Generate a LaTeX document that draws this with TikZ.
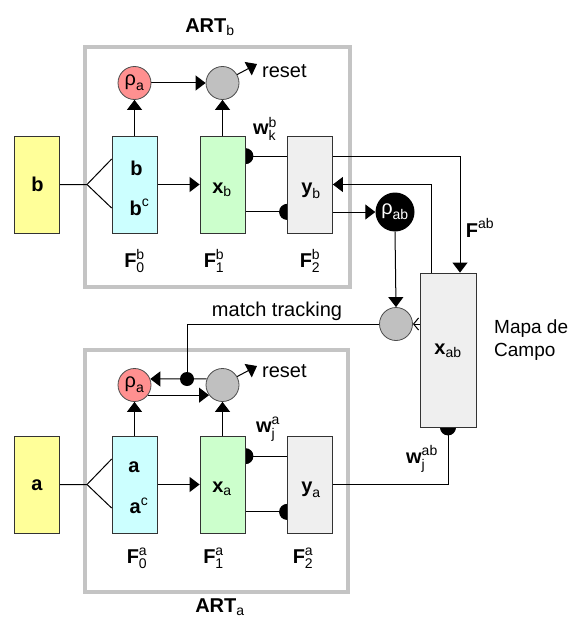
\documentclass[tikz,border=0pt]{standalone}
\usepackage{fontspec}
\setmainfont{Liberation Sans}
\usepackage{amsmath}
\usetikzlibrary{arrows.meta,calc,backgrounds}
\definecolor{InClr}{HTML}{FFFF99}
\definecolor{FzeroClr}{HTML}{CCFFFF}
\definecolor{FoneClr}{HTML}{CCFFCC}
\definecolor{FtwoClr}{HTML}{EFEFEF}
\definecolor{RhoClr}{HTML}{FF9090}
\definecolor{GateClr}{HTML}{C0C0C0}
\definecolor{FrameClr}{HTML}{C4C4C4}

\tikzset{
  layer/.style={draw=black!80,line width=0.8pt,minimum width=45pt,minimum height=97pt,inner sep=0pt},
  gate/.style={circle,draw=black!70,line width=0.8pt,fill=GateClr,minimum size=33pt,inner sep=0pt},
  vig/.style={circle,draw=black!70,line width=0.8pt,fill=RhoClr,minimum size=33pt,inner sep=0pt},
  lbl/.style={inner sep=0pt},
  jdot/.style={circle,fill=black,minimum size=14pt,inner sep=0pt},
  link/.style={line width=1pt},
  tri/.style={-{Triangle[width=15pt,length=10pt]}},
  wt/.style={-{Circle[length=16pt]},shorten >=-8pt},
  frame/.style={draw=FrameClr,line width=4pt},
}

\begin{document}
\begin{tikzpicture}[x=1pt,y=-1pt,font=\fontsize{20}{24}\selectfont]
\useasboundingbox (0,0) rectangle (571,623);

% ART_b
\node[layer,fill=InClr] (inb) at (36.5,184.5) {};
\node[layer,fill=FzeroClr] (F0b) at (134.5,184.5) {};
\node[layer,fill=FoneClr] (F1b) at (222.5,184.5) {};
\node[layer,fill=FtwoClr] (F2b) at (310,184.5) {};
\node[vig] (rhob) at (134.5,83) {$\text{ρ}_{\text{a}}$};
\node[gate] (gb) at (222.5,83) {};
\coordinate (rstb) at (257,64);
\coordinate (forkb) at (87,184.5);

\node[lbl] (inbl) at (37.5,184) {\textbf{b}};
\node[lbl] (F0bt) at (136.5,168.5) {\textbf{b}};
\node[lbl] (F0bc) at (139.5,207.5) {$\textbf{b}^{\text{c}}$};
\node[lbl] (xb) at (222,190) {$\textbf{x}_{\text{b}}$};
\node[lbl] (yb) at (311,191) {$\textbf{y}_{\text{b}}$};
\node[lbl] (wb) at (265,129) {$\textbf{w}^{\text{b}}_{\text{k}}$};
\node[lbl,anchor=west] (rstbl) at (262,71) {reset};
\node[lbl] (F0bl) at (134.5,261) {$\textbf{F}^{\text{b}}_{\text{0}}$};
\node[lbl] (F1bl) at (214,261) {$\textbf{F}^{\text{b}}_{\text{1}}$};
\node[lbl] (F2bl) at (310,261) {$\textbf{F}^{\text{b}}_{\text{2}}$};
\node[lbl] (ARTb) at (210,27.5) {\textbf{ART}$_{\text{b}}$};

% ART_a
\node[layer,fill=InClr] (ina) at (36.5,484.5) {};
\node[layer,fill=FzeroClr] (F0a) at (134.5,484.5) {};
\node[layer,fill=FoneClr] (F1a) at (222.5,484.5) {};
\node[layer,fill=FtwoClr] (F2a) at (310,484.5) {};
\node[vig] (rhoa) at (134.5,385) {$\text{ρ}_{\text{a}}$};
\node[gate] (ga) at (222.5,385) {};
\coordinate (rsta) at (257,366);
\coordinate (forka) at (87,484.5);

\node[lbl] (inal) at (37,485) {\textbf{a}};
\node[lbl] (F0at) at (134,467) {\textbf{a}};
\node[lbl] (F0ac) at (139,506) {$\textbf{a}^{\text{c}}$};
\node[lbl] (xa) at (222,489) {$\textbf{x}_{\text{a}}$};
\node[lbl] (ya) at (311,490) {$\textbf{y}_{\text{a}}$};
\node[lbl] (wa) at (268,429) {$\textbf{w}^{\text{a}}_{\text{j}}$};
\node[lbl,anchor=west] (rstal) at (262,371) {reset};
\node[lbl] (F0al) at (137,558) {$\textbf{F}^{\text{a}}_{\text{0}}$};
\node[lbl] (F1al) at (213.5,558) {$\textbf{F}^{\text{a}}_{\text{1}}$};
\node[lbl] (F2al) at (303,558) {$\textbf{F}^{\text{a}}_{\text{2}}$};
\node[lbl] (ARTa) at (220,607) {\textbf{ART}$_{\text{a}}$};

% map field
\node[layer,fill=FtwoClr,minimum width=56pt,minimum height=154pt] (xab) at (448,350) {};
\node[circle,fill=black,text=white,minimum size=39pt,inner sep=0pt] (rhoab) at (395,212) {$\text{ρ}_{\text{ab}}$};
\node[gate] (gab) at (396,324) {};
\node[jdot] (mt) at (187,379) {};

\node[lbl] (xabl) at (448,351) {$\textbf{x}_{\text{ab}}$};
\node[lbl] (Fab) at (480,228) {$\textbf{F}^{\text{ab}}$};
\node[lbl] (wab) at (422,459) {$\textbf{w}^{\text{ab}}_{\text{j}}$};
\node[lbl,anchor=west,align=left,font=\fontsize{19}{23}\selectfont] (mapa) at (494,340) {Mapa de\\Campo};
\node[lbl] (mtl) at (277,311) {match tracking};

\begin{scope}[on background layer]
\draw[frame] (85,47) rectangle (350,287);
\draw[frame] (85,350) rectangle (348,592);

% ART_b links
\draw[link] (inb.east) -- (forkb) -- ($(F0b.north west)!.24!(F0b.south west)$);
\draw[link] (forkb) -- ($(F0b.north west)!.74!(F0b.south west)$);
\draw[link,tri] (F0b.east) -- (F1b.west);
\draw[link,tri] (F0b.north) -- (rhob.south);
\draw[link,tri] (F1b.north) -- (gb.south);
\draw[link,tri] (rhob.east) -- (gb.west);
\draw[link,tri] (gb.30) -- (rstb);
\draw[link,wt] ($(F2b.north west)!.21!(F2b.south west)$) -- ($(F1b.north east)!.21!(F1b.south east)$);
\draw[link,wt] ($(F1b.north east)!.78!(F1b.south east)$) -- ($(F2b.north west)!.78!(F2b.south west)$);

% ART_a links
\draw[link] (ina.east) -- (forka) -- ($(F0a.north west)!.24!(F0a.south west)$);
\draw[link] (forka) -- ($(F0a.north west)!.74!(F0a.south west)$);
\draw[link,tri] (F0a.east) -- (F1a.west);
\draw[link,tri] (F0a.north) -- (rhoa.south);
\draw[link,tri] (F1a.north) -- (ga.south);
\draw[link,tri] (rhoa.-37) -- (ga.-143);
\draw[link,tri] (ga.30) -- (rsta);
\draw[link,wt] ($(F2a.north west)!.21!(F2a.south west)$) -- ($(F1a.north east)!.21!(F1a.south east)$);
\draw[link,wt] ($(F1a.north east)!.78!(F1a.south east)$) -- ($(F2a.north west)!.78!(F2a.south west)$);

% map field links
\draw[link,tri] ($(F2b.north east)!.21!(F2b.south east)$) -| ($(xab.north)+(12,0)$);
\draw[link,tri] ($(xab.north)+(-17,0)$) |- (F2b.east);
\draw[link,tri] (F2b.east |- rhoab) -- (rhoab.west);
\draw[link,tri] (rhoab.south) -- (gab.north);
\draw[link,-{Straight Barb[length=5pt,width=12pt]}] (xab.west |- gab) -- (gab.east);
\draw[link,wt] (F2a.east) -| (xab.south);

% match tracking
\draw[link] (gab.west) -| (mt);
\draw[link,tri] (mt) -- (rhoa.21);
\draw[link] (mt) -- (ga.159);
\end{scope}

\end{tikzpicture}
\end{document}
